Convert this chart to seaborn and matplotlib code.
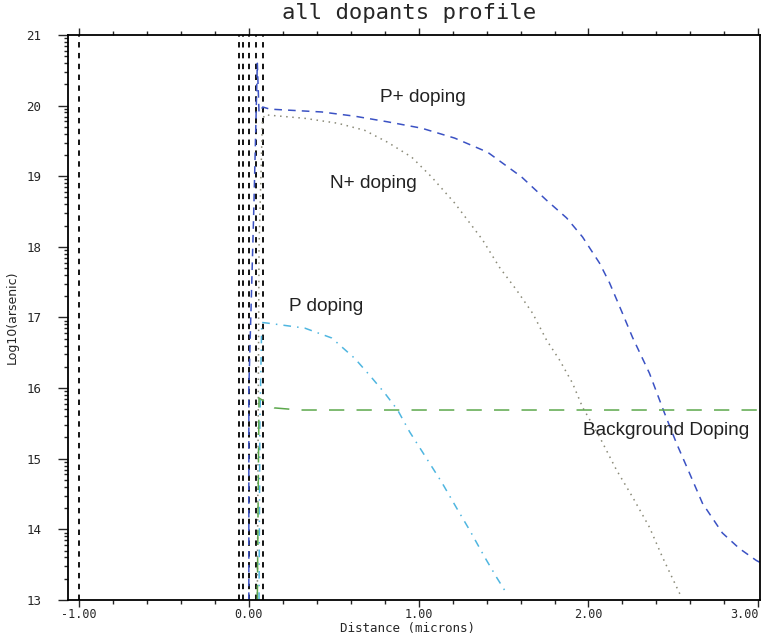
import numpy as np
import pandas as pd
import matplotlib
matplotlib.use("Agg")
import matplotlib.pyplot as plt
import seaborn as sns

# P+ doping (blue dashed)
pplus_x = [0.0, 0.0, 0.03, 0.05, 0.06, 0.082, 0.124, 0.429, 0.624, 0.818, 1.018, 1.212, 1.406, 1.606,
           1.753, 1.871, 1.965, 2.065, 2.124, 2.2, 2.259, 2.359, 2.447, 2.518, 2.594, 2.671,
           2.788, 2.888, 2.988, 3.02]
pplus_y = [13.0, 16.0, 18.6, 20.6, 19.9, 19.98, 19.95, 19.91, 19.85, 19.77, 19.68, 19.54, 19.34, 18.99,
           18.66, 18.41, 18.14, 17.77, 17.49, 17.06, 16.72, 16.21, 15.65, 15.22, 14.80, 14.37,
           13.95, 13.73, 13.56, 13.52]

# N+ doping (grey dotted)
nplus_x = [0.05, 0.06, 0.08, 0.094, 0.329, 0.524, 0.682, 0.818, 0.959, 1.076, 1.212, 1.376, 1.476,
           1.576, 1.671, 1.753, 1.829, 1.906, 1.965, 2.065, 2.165, 2.259, 2.359, 2.435, 2.547]
nplus_y = [13.0, 18.0, 19.8, 19.87, 19.82, 19.75, 19.65, 19.48, 19.27, 18.99, 18.62, 18.10, 17.71,
           17.39, 17.06, 16.68, 16.40, 16.07, 15.73, 15.31, 14.84, 14.46, 14.03, 13.61, 13.04]

# P doping (cyan dash-dot)
p_x = [0.06, 0.065, 0.076, 0.112, 0.329, 0.488, 0.624, 0.712, 0.8, 0.876, 0.947, 1.053, 1.135,
       1.224, 1.3, 1.388, 1.459, 1.524]
p_y = [13.0, 15.5, 16.93, 16.92, 16.85, 16.71, 16.42, 16.18, 15.93, 15.69, 15.38, 14.98, 14.67,
       14.30, 13.99, 13.61, 13.32, 13.07]

# Background doping (green long dash)
bg_x = [0.05, 0.055, 0.06, 0.15, 0.3, 1.0, 2.0, 3.05]
bg_y = [13.0, 14.5, 15.86, 15.72, 15.69, 15.69, 15.69, 15.69]

# mask / region boundaries
boundaries = [-1.0, -0.055, -0.035, 0.0, 0.045, 0.085]

xticks = [-1.0, 0.0, 1.0, 2.0, 3.0]
xtick_labels = ["-1.00", "0.00", "1.00", "2.00", "3.00"]
yticks = [13, 14, 15, 16, 17, 18, 19, 20, 21]

sns.set_style("white")
fig = plt.figure(figsize=(7.62, 6.36), dpi=100)
ax = fig.add_axes([0.0892, 0.0566, 0.9082, 0.8884])

for xb in boundaries:
    ax.axvline(xb, color="black", linestyle=(0, (3, 3)), linewidth=1.3, zorder=1)

sns.lineplot(x=pplus_x, y=pplus_y, ax=ax, sort=False, estimator=None, color="#3b52c4",
             linestyle=(0, (5, 4)), linewidth=1.1)
sns.lineplot(x=nplus_x, y=nplus_y, ax=ax, sort=False, estimator=None, color="#8a8a78",
             linestyle=(0, (1, 3)), linewidth=1.1)
sns.lineplot(x=p_x, y=p_y, ax=ax, sort=False, estimator=None, color="#4fb6e0",
             linestyle=(0, (5, 4, 1, 4)), linewidth=1.1)
sns.lineplot(x=bg_x, y=bg_y, ax=ax, sort=False, estimator=None, color="#5ca84c",
             linestyle=(0, (10, 8)), linewidth=1.1)

ax.set_xlim(-1.065, 3.01)
ax.set_ylim(13, 21)

ax.set_xticks(xticks)
ax.set_xticklabels(xtick_labels, family="DejaVu Sans Mono", fontsize=8.5)
ax.get_xticklabels()[-1].set_horizontalalignment("right")
ax.set_xticks(np.arange(-1.0, 3.01, 0.2), minor=True)
ax.set_yticks(yticks)
ax.set_yticklabels([str(v) for v in yticks], family="DejaVu Sans Mono", fontsize=9)
ax.set_yticks([d + np.log10(k) for d in range(13, 21) for k in range(2, 10)], minor=True)

ax.tick_params(axis="x", which="both", direction="out", top=True, bottom=True,
               labeltop=False, width=1.0, pad=1)
ax.tick_params(axis="x", which="major", length=5)
ax.tick_params(axis="x", which="minor", length=3)
ax.tick_params(axis="y", which="both", direction="out", left=True, right=False, width=1.0, pad=12)
ax.tick_params(axis="y", which="major", length=7)
ax.tick_params(axis="y", which="minor", length=3)

for s in ax.spines.values():
    s.set_color("black")
    s.set_linewidth(1.3)

fig.text(0.535, 0.0125, "Distance (microns)", family="DejaVu Sans Mono", fontsize=9,
         ha="center", va="center")
ax.set_ylabel("Log10(arsenic)", family="DejaVu Sans", fontsize=9, va="center")
ax.yaxis.set_label_coords(-0.08, 0.5)
fig.text(0.537, 0.98, "all dopants profile", family="DejaVu Sans Mono", fontsize=16,
         ha="center", va="center")

lbl = dict(family="Liberation Sans", fontsize=13.7, va="center", ha="left", color="#222222")
ax.text(0.77, 20.11, "P+ doping", **lbl)
ax.text(0.476, 18.9, "N+ doping", **lbl)
ax.text(0.235, 17.15, "P doping", **lbl)
ax.text(1.965, 15.4, "Background Doping", **lbl)

fig.savefig("out.png", dpi=100)
